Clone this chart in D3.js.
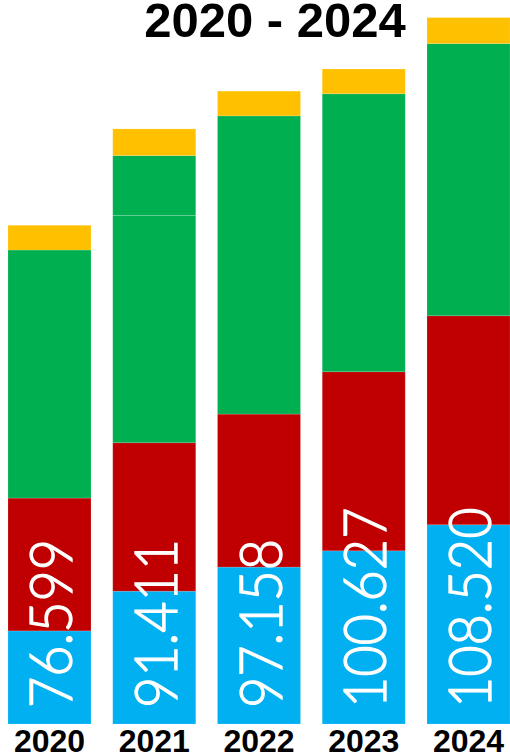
<!DOCTYPE html>
<html>
<head>
<meta charset="utf-8">
<script src="https://cdnjs.cloudflare.com/ajax/libs/d3/7.8.5/d3.min.js"></script>
<style>
  html, body { margin: 0; padding: 0; background: #fff; }
  svg { display: block; }
</style>
</head>
<body>
<div id="chart"></div>
<script>
// data (values in thousands)
var years = ["2020", "2021", "2022", "2023", "2024"];
var totals = ["76.599", "91.411", "97.158", "100.627", "108.520"];
var blueVals = [14.3, 20.4, 24.1, 26.6, 30.6];
var redVals = [20.4, 22.8, 23.5, 27.5, 32.1];
var greenVals = [38.1, 34.9, 45.8, 42.7, 41.8];
var green2Vals = [0, 9.2, 0, 0, 0];
var yellowVals = [3.8, 4.1, 3.8, 3.8, 4.0];

var seriesKeys = ["blue", "red", "green", "green2", "yellow"];
var colors = {
    blue: "#00B0F0",
    red: "#C00000",
    green: "#00B050",
    green2: "#00B050",
    yellow: "#FFC000"
};

var width = 510, height = 753;

var rows = years.map(function (y, i) {
    return {
        year: y,
        total: totals[i],
        blue: blueVals[i],
        red: redVals[i],
        green: greenVals[i],
        green2: green2Vals[i],
        yellow: yellowVals[i]
    };
});

var svg = d3.select("#chart").append("svg")
    .attr("width", width)
    .attr("height", height);

var x = d3.scaleBand()
    .domain(years)
    .range([8, 510])
    .paddingInner(0.2076)
    .paddingOuter(0);

var y = d3.scaleLinear()
    .domain([0, 111.2])
    .range([724, 0]);

var stack = d3.stack().keys(seriesKeys);
var layers = stack(rows);

svg.append("g").selectAll("g")
    .data(layers)
    .join("g")
    .attr("fill", function (d) { return colors[d.key]; })
    .selectAll("rect")
    .data(function (d) { return d; })
    .join("rect")
    .attr("x", function (d) { return x(d.data.year); })
    .attr("y", function (d) { return y(d[1]); })
    .attr("width", x.bandwidth())
    .attr("height", function (d) { return y(d[0]) - y(d[1]); })
    .attr("stroke", "rgba(255,255,255,0.18)")
    .attr("stroke-width", 0.8);

// rotated totals inside the bars
svg.append("g").selectAll("text")
    .data(rows)
    .join("text")
    .attr("transform", function (d) {
        return "translate(" + (x(d.year) + x.bandwidth() / 2 + 22.5) + ",708) rotate(-90) scale(0.9,1)";
    })
    .attr("text-anchor", "start")
    .attr("fill", "#fff")
    .attr("stroke", "#fff")
    .attr("stroke-width", 1.3)
    .style("font-family", "Lato, 'DejaVu Sans', sans-serif")
    .style("font-weight", 300)
    .style("font-size", "60px")
    .text(function (d) { return d.total; });

// year labels
svg.append("g").selectAll("text")
    .data(years)
    .join("text")
    .attr("x", function (d) { return x(d) + x.bandwidth() / 2; })
    .attr("y", 752)
    .attr("text-anchor", "middle")
    .style("font-family", "'Liberation Sans', Arial, sans-serif")
    .style("font-weight", "bold")
    .style("font-size", "32px")
    .attr("fill", "#000")
    .text(function (d) { return d; });

// title
svg.append("text")
    .attr("x", 275)
    .attr("y", 37)
    .attr("text-anchor", "middle")
    .style("font-family", "'Liberation Sans', Arial, sans-serif")
    .style("font-weight", "bold")
    .style("font-size", "49px")
    .attr("fill", "#000")
    .text("2020 - 2024");
</script>
</body>
</html>
